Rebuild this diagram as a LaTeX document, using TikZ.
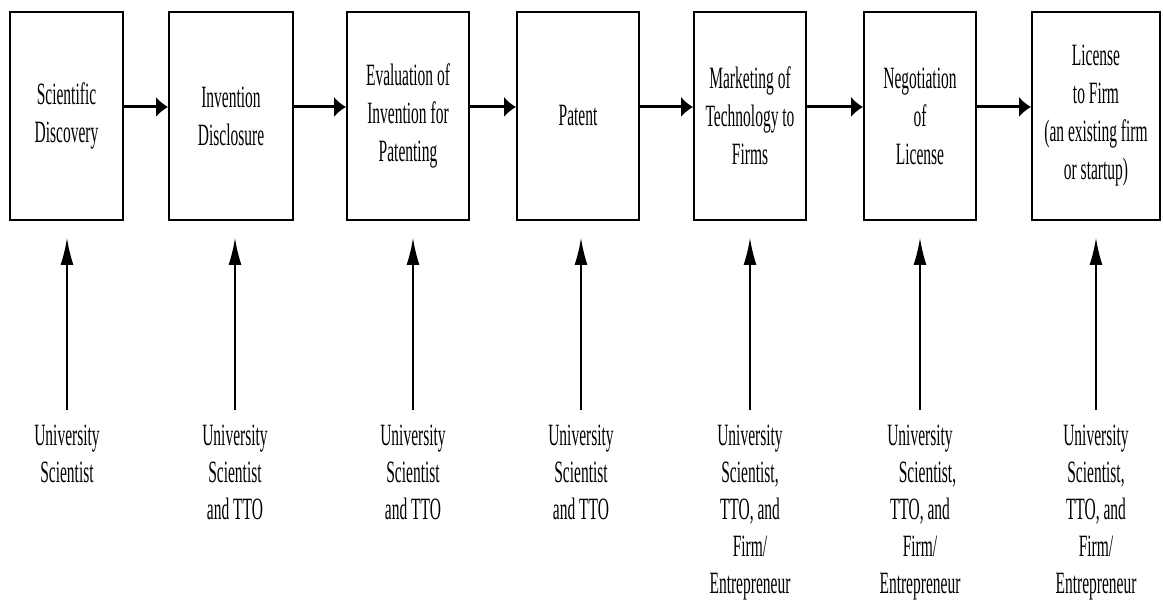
\documentclass[tikz,border=0pt]{standalone}
\usepackage{fontspec}
\setmainfont{Liberation Serif}[FakeStretch=0.5]
\usetikzlibrary{positioning, arrows.meta}

\begin{document}
\begin{tikzpicture}[
    x=1pt, y=1pt,
    node distance=204pt,
    stage/.style={draw, line width=2pt, align=center, inner sep=0pt, minimum height=208pt, font=\fontsize{31}{38}\selectfont},
    actor/.style={align=center, inner sep=0pt, font=\fontsize{31}{37}\selectfont},
    flow/.style={line width=3pt, -{Latex[length=12pt,width=21pt]}},
    input/.style={line width=1.6pt, -{Latex[length=27pt,width=13pt]}, shorten <=15pt, shorten >=17pt}]

    \useasboundingbox (0,0) rectangle (1163,600);

    % stages of the transfer process
    \node at (66.5,484) [stage, minimum width=113pt] (discovery) {Scientific\\Discovery};
    \node at (231,484) [stage, minimum width=124pt] (disclosure) {Invention\\Disclosure};
    \node at (408,484) [stage, minimum width=122pt] (evaluation) {Evaluation of\\Invention for\\Patenting};
    \node at (578,484) [stage, minimum width=122pt] (patent) {Patent};
    \node at (750,484) [stage, minimum width=112pt] (marketing) {Marketing of\\Technology to\\Firms};
    \node at (920,484) [stage, minimum width=112pt] (negotiation) {Negotiation\\of\\License};
    \node at (1096,484) [stage, minimum width=128pt] (license) {License\\to Firm\\(an existing firm\\or startup)};

    % who is involved
    \node [actor, below=of discovery, xshift=0.5pt] (scientist) {University\\Scientist};
    \node [actor, below=of disclosure, xshift=4pt] (disclosureact) {University\\Scientist\\and TTO};
    \node [actor, below=of evaluation, xshift=5pt] (evaluationact) {University\\Scientist\\and TTO};
    \node [actor, below=of patent, xshift=3pt] (patentact) {University\\Scientist\\and TTO};
    \node [actor, below=of marketing] (marketingact) {University\\Scientist,\\TTO, and\\Firm/\\Entrepreneur};
    \node [actor, below=of negotiation] (negotiationact) {University\\\hspace*{15pt}Scientist,\\TTO, and\\Firm/\\Entrepreneur};
    \node [actor, below=of license] (licenseact) {University\\Scientist,\\TTO, and\\Firm/\\Entrepreneur};

    \draw[flow] ([yshift=9pt]discovery.east) -- ([yshift=9pt]disclosure.west);
    \draw[flow] ([yshift=9pt]disclosure.east) -- ([yshift=9pt]evaluation.west);
    \draw[flow] ([yshift=9pt]evaluation.east) -- ([yshift=9pt]patent.west);
    \draw[flow] ([yshift=9pt]patent.east) -- ([yshift=9pt]marketing.west);
    \draw[flow] ([yshift=9pt]marketing.east) -- ([yshift=9pt]negotiation.west);
    \draw[flow] ([yshift=9pt]negotiation.east) -- ([yshift=9pt]license.west);

    \draw[input] (scientist.north) -- (scientist.north |- discovery.south);
    \draw[input] (disclosureact.north) -- (disclosureact.north |- disclosure.south);
    \draw[input] (evaluationact.north) -- (evaluationact.north |- evaluation.south);
    \draw[input] (patentact.north) -- (patentact.north |- patent.south);
    \draw[input] (marketingact.north) -- (marketingact.north |- marketing.south);
    \draw[input] (negotiationact.north) -- (negotiationact.north |- negotiation.south);
    \draw[input] (licenseact.north) -- (licenseact.north |- license.south);

\end{tikzpicture}
\end{document}
